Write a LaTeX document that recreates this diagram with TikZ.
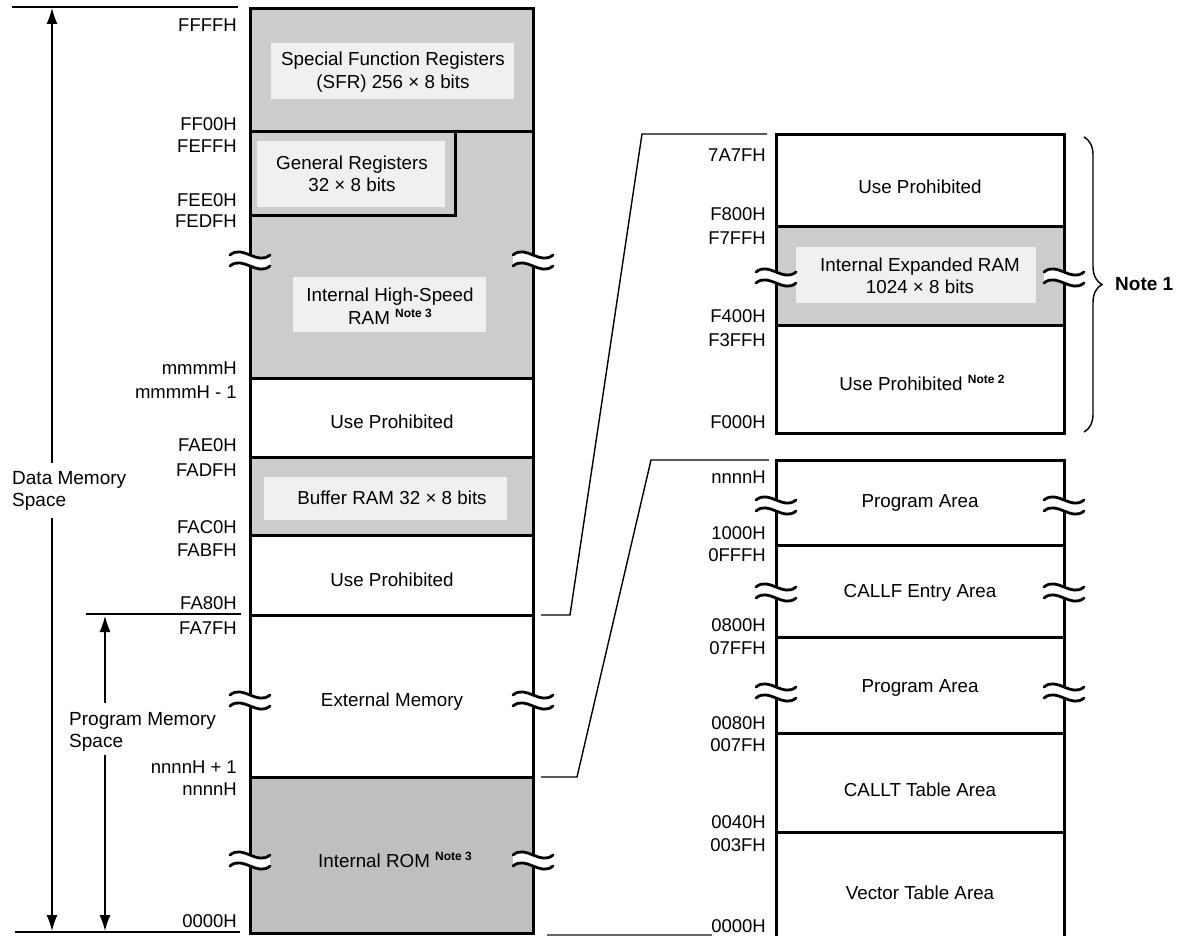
\documentclass[tikz,border=0pt]{standalone}
\usepackage{fontspec}
\setmainfont{Liberation Sans}
\usetikzlibrary{arrows.meta,decorations.pathreplacing}
\newcommand{\notemark}[1]{\raisebox{0.65ex}{\fontsize{12}{13}\selectfont\bfseries Note #1}}
\newcommand{\brkmark}[2]{%
  \fill[white] (#1-20,#2-5) .. controls (#1-7,#2-16) and (#1+7,#2+6) .. (#1+20,#2-5)
     -- (#1+20,#2+6) .. controls (#1+7,#2+17) and (#1-7,#2-5) .. (#1-20,#2+6) -- cycle;
  \draw[wave] (#1-20,#2-5) .. controls (#1-7,#2-16) and (#1+7,#2+6) .. (#1+20,#2-5);
  \draw[wave] (#1-20,#2+6) .. controls (#1-7,#2-5) and (#1+7,#2+17) .. (#1+20,#2+6);
}
\begin{document}
\begin{tikzpicture}[x=1pt,y=-1pt,
  box/.style={line width=3pt},
  divl/.style={line width=3pt},
  shadefill/.style={fill=black!20},
  darkfill/.style={fill=black!25},
  litefill/.style={fill=black!6},
  lbl/.style={anchor=east, inner sep=0pt, font=\fontsize{18.5}{21}\selectfont},
  txt/.style={font=\fontsize{18.8}{22.5}\selectfont, align=center, inner sep=0pt},
  side/.style={font=\fontsize{19}{22}\selectfont, align=left, inner sep=0pt, anchor=west},
  thinl/.style={line width=1.4pt},
  arr/.style={thinl, -{Latex[length=16pt,width=11pt]}},
  wave/.style={line width=2.8pt, line cap=round},
]
\useasboundingbox (0,0) rectangle (1188,936);

% ---------- shaded areas ----------
\fill[shadefill] (250,9) rectangle (533,132);
\fill[litefill] (271,43) rectangle (514,99);
\fill[shadefill] (250,132) rectangle (533,378);
\fill[litefill] (257,141) rectangle (445,207);
\fill[litefill] (293,277) rectangle (486,332);
\fill[shadefill] (250,457) rectangle (533,535);
\fill[litefill] (264,477) rectangle (507,520);
\fill[darkfill] (250,777) rectangle (533,933);
\fill[shadefill] (776,226) rectangle (1064,325);
\fill[litefill] (796,247) rectangle (1036,303);

% ---------- left column ----------
\coordinate (Ltl) at (250,9);
\coordinate (Lbr) at (533,933);
\draw[box] (Ltl) rectangle (Lbr);
\draw[divl] (250,132) -- (533,132);
\draw[divl] (250,215) -- (455,215) -- (455,132);
\draw[divl] (250,378) -- (533,378);
\draw[divl] (250,457) -- (533,457);
\draw[divl] (250,535) -- (533,535);
\coordinate (Lfa80) at (533,615);
\coordinate (Lnnnn) at (533,777);
\draw[divl] (250,615) -- (Lfa80);
\draw[divl] (250,777) -- (Lnnnn);

% ---------- right column, upper ----------
\coordinate (Rtl) at (776,135);
\coordinate (Rbr) at (1064,433);
\draw[box] (Rtl) rectangle (Rbr);
\draw[divl] (776,226) -- (1064,226);
\draw[divl] (776,325) -- (1064,325);

% ---------- right column, lower ----------
\coordinate (Sbl) at (776,937);
\coordinate (Stl) at (776,460);
\coordinate (Str) at (1064,460);
\coordinate (Sbr) at (1064,937);
\draw[box] (Sbl) -- (Stl) -- (Str) -- (Sbr);
\draw[divl] (776,545) -- (1064,545);
\draw[divl] (776,637) -- (1064,637);
\draw[divl] (776,733) -- (1064,733);
\draw[divl] (776,832) -- (1064,832);
\coordinate (Bl) at (547,935);
\coordinate (Br) at (712,935);
\draw[thinl,black!60] (Bl) -- (Br);

% ---------- break marks ----------
\brkmark{250}{260}\brkmark{533}{260}
\brkmark{250}{700}\brkmark{533}{700}
\brkmark{250}{860}\brkmark{533}{860}
\brkmark{776}{277}\brkmark{1064}{277}
\brkmark{776}{505}\brkmark{1064}{505}
\brkmark{776}{592}\brkmark{1064}{592}
\brkmark{776}{692}\brkmark{1064}{692}

% ---------- connectors ----------
\coordinate (c1s) at (541,615);
\coordinate (c1k) at (570,615);
\coordinate (c1t) at (642,134);
\coordinate (c1e) at (767,134);
\draw[thinl] (c1s) -- (c1k) -- (c1t) -- (c1e);
\coordinate (c2s) at (541,777);
\coordinate (c2k) at (577,777);
\coordinate (c2t) at (651,460);
\coordinate (c2e) at (769,460);
\draw[thinl] (c2s) -- (c2k) -- (c2t) -- (c2e);

% ---------- left side lines and arrows ----------
\coordinate (topL) at (12,7);
\coordinate (topR) at (238,7);
\draw[thinl] (topL) -- (topR);
\coordinate (botL) at (15,932);
\coordinate (botR) at (240,932);
\draw[thinl] (botL) -- (botR);
\coordinate (pgL) at (86,614);
\coordinate (pgR) at (241,614);
\draw[thinl] (pgL) -- (pgR);

\coordinate (dTop) at (52,8);
\coordinate (dG1) at (52,463);
\coordinate (dG2) at (52,518);
\coordinate (dBot) at (52,931);
\draw[arr] (dG1) -- (dTop);
\draw[arr] (dG2) -- (dBot);
\coordinate (pTop) at (105,616);
\coordinate (pG1) at (105,703);
\coordinate (pG2) at (105,755);
\coordinate (pBot) at (105,931);
\draw[arr] (pG1) -- (pTop);
\draw[arr] (pG2) -- (pBot);

\node[side] (dms) at (12,491) {Data Memory\\Space};
\node[side] (pms) at (69,732) {Program Memory\\Space};

% ---------- left labels ----------
\node[lbl] (l1) at (237,25) {FFFFH};
\node[lbl] (l2) at (237,124) {FF00H};
\node[lbl] (l3) at (237,146) {FEFFH};
\node[lbl] (l4) at (237,200) {FEE0H};
\node[lbl] (l5) at (237,221) {FEDFH};
\node[lbl] (l6) at (237,368) {mmmmH};
\node[lbl] (l7) at (237,392) {mmmmH - 1};
\node[lbl] (l8) at (237,445) {FAE0H};
\node[lbl] (l9) at (237,470) {FADFH};
\node[lbl] (l10) at (237,527) {FAC0H};
\node[lbl] (l11) at (237,550) {FABFH};
\node[lbl] (l12) at (237,603) {FA80H};
\node[lbl] (l13) at (237,628) {FA7FH};
\node[lbl] (l14) at (237,767) {nnnnH + 1};
\node[lbl] (l15) at (237,789) {nnnnH};
\node[lbl] (l16) at (237,921) {0000H};

% ---------- right labels ----------
\node[lbl] (r1) at (766,155) {7A7FH};
\node[lbl] (r2) at (766,214) {F800H};
\node[lbl] (r3) at (766,238) {F7FFH};
\node[lbl] (r4) at (766,316) {F400H};
\node[lbl] (r5) at (766,340) {F3FFH};
\node[lbl] (r6) at (766,422) {F000H};
\node[lbl] (r7) at (766,477) {nnnnH};
\node[lbl] (r8) at (766,533) {1000H};
\node[lbl] (r9) at (766,555) {0FFFH};
\node[lbl] (r10) at (766,625) {0800H};
\node[lbl] (r11) at (766,648) {07FFH};
\node[lbl] (r12) at (766,723) {0080H};
\node[lbl] (r13) at (766,745) {007FH};
\node[lbl] (r14) at (766,822) {0040H};
\node[lbl] (r15) at (766,845) {003FH};
\node[lbl] (r16) at (766,926) {0000H};

% ---------- region texts ----------
\node[txt] (tsfr) at (393,72) {Special Function Registers\\(SFR) 256 × 8 bits};
\node[txt] (tgr) at (352,174) {General Registers\\32 ×  8 bits};
\node[txt] (tram) at (390,306) {Internal High-Speed\\RAM \notemark{3}};
\node[txt] (tup1) at (392,422) {Use Prohibited};
\node[txt] (tbuf) at (392,498) {Buffer RAM 32 ×  8 bits};
\node[txt] (tup2) at (392,580) {Use Prohibited};
\node[txt] (text) at (392,702) {External Memory};
\node[txt] (trom) at (395,860) {Internal ROM \notemark{3}};

\node[txt] (tup3) at (920,187) {Use Prohibited};
\node[txt] (txram) at (920,276) {Internal Expanded RAM\\1024 × 8 bits};
\node[txt] (tup4) at (922,383) {Use Prohibited \notemark{2}};
\node[txt] (tpa1) at (920,503) {Program Area};
\node[txt] (tcf) at (920,593) {CALLF Entry Area};
\node[txt] (tpa2) at (920,688) {Program Area};
\node[txt] (tct) at (920,790) {CALLT Table Area};
\node[txt] (tvt) at (920,893) {Vector Table Area};

% ---------- brace ----------
\coordinate (brT) at (1084,137);
\coordinate (brB) at (1084,432);
\draw[thinl, decorate, decoration={brace, amplitude=18pt}] (brT) -- (brB);
\node[anchor=west, inner sep=0pt, font=\fontsize{19}{22}\selectfont\bfseries] (note1) at (1115,284) {Note 1};
\end{tikzpicture}
\end{document}
